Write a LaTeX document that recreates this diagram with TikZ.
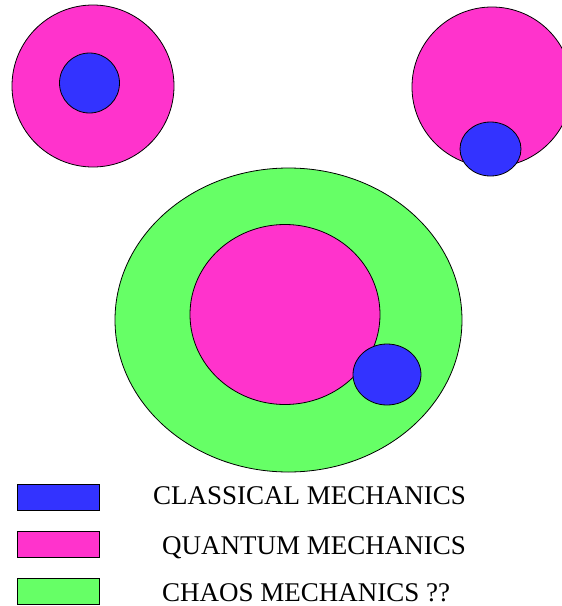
\documentclass[tikz,border=0pt]{standalone}
\usepackage{fontspec}
\setmainfont{Liberation Serif}
\usetikzlibrary{positioning}
\definecolor{classBlue}{RGB}{51,51,255}
\definecolor{quantPink}{RGB}{255,51,204}
\definecolor{chaosGreen}{RGB}{102,255,102}
\tikzset{
  blob/.style={draw=black,line width=0.8pt},
  keybox/.style={draw=black,line width=0.8pt,minimum width=82pt,minimum height=26pt,inner sep=0pt},
  keytext/.style={anchor=base west,inner sep=0pt,font=\fontsize{27}{30}\selectfont}
}
\begin{document}
\begin{tikzpicture}[x=1pt,y=-1pt]
\useasboundingbox (0,0) rectangle (562,606);
\clip (0,0) rectangle (562,606);
% upper left
\draw[blob,fill=quantPink] (93,86) circle[radius=81];
\draw[blob,fill=classBlue] (89.5,83) circle[radius=30];
% upper right
\draw[blob,fill=quantPink] (492,87) circle[radius=80];
\draw[blob,fill=classBlue] (490.5,149) ellipse[x radius=30.5,y radius=27];
% centre
\draw[blob,fill=chaosGreen] (288.5,320) ellipse[x radius=173.5,y radius=152];
\draw[blob,fill=quantPink] (285,314.5) ellipse[x radius=95,y radius=90];
\draw[blob,fill=classBlue] (387,374.5) ellipse[x radius=34,y radius=30.5];
% legend
\node[keybox,fill=classBlue] (keyA) at (58,497) {};
\node[keybox,fill=quantPink] (keyB) at (58,544) {};
\node[keybox,fill=chaosGreen] (keyC) at (58,591) {};
\node[keytext] (txtA) at (153,504) {CLASSICAL MECHANICS};
\node[keytext] (txtB) at (162,554) {QUANTUM MECHANICS};
\node[keytext] (txtC) at (162,601) {CHAOS MECHANICS ??};
\end{tikzpicture}
\end{document}
